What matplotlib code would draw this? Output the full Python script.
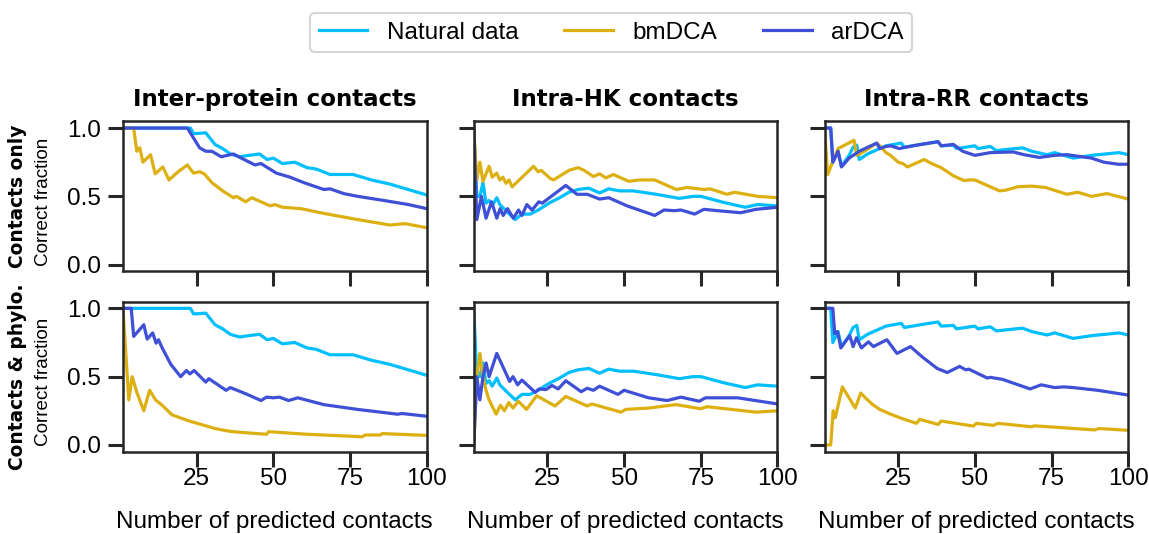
import matplotlib
matplotlib.use("Agg")
import matplotlib.pyplot as plt

plt.rcParams['font.family'] = ['Liberation Sans', 'DejaVu Sans']

# Colours
C_NAT = "#00BFFF"
C_BM = "#DDB012"
C_AR = "#3F4FD6"

TITLES = ["Inter-protein contacts", "Intra-HK contacts", "Intra-RR contacts"]
ROW_LABELS = ["Contacts only", "Contacts & phylo."]
LABELS = ["Natural data", "bmDCA", "arDCA"]

# ---- Natural data (same in both rows) ----
nat_inter_x = [1, 23, 24, 25, 28, 31, 33.5, 36, 39, 42, 45.5, 48, 50, 53, 57, 61, 64, 68.5, 72, 76, 82, 88, 94, 100]
nat_inter_y = [1.0, 1.0, 0.96, 0.96, 0.965, 0.88, 0.85, 0.81, 0.79, 0.80, 0.81, 0.77, 0.78, 0.74, 0.75, 0.71, 0.70, 0.66, 0.66, 0.66, 0.62, 0.59, 0.55, 0.51]

nat_hk_x = [1, 2, 3, 4, 5, 6, 7, 8.5, 9.5, 11.7, 14.5, 16.7, 19.4, 22, 25.5, 29, 32, 35, 38.5, 42, 45, 48.5, 53, 60.5, 68, 72.5, 75, 82.5, 89.5, 93.5, 100]
nat_hk_y = [1.0, 0.5, 0.5, 0.60, 0.45, 0.47, 0.43, 0.49, 0.44, 0.39, 0.33, 0.37, 0.37, 0.40, 0.45, 0.49, 0.53, 0.55, 0.56, 0.525, 0.555, 0.54, 0.54, 0.515, 0.485, 0.50, 0.50, 0.455, 0.42, 0.44, 0.43]

nat_rr_x = [1, 3, 3.7, 5.4, 6.5, 9, 10.3, 11.5, 12.3, 15, 17, 21, 26, 27, 31, 35, 38, 39, 43, 44, 50, 51, 55, 57, 65.5, 68.5, 73.5, 76, 82, 88, 97, 100]
nat_rr_y = [1.0, 1.0, 0.75, 0.83, 0.72, 0.80, 0.86, 0.875, 0.77, 0.81, 0.83, 0.87, 0.89, 0.86, 0.875, 0.89, 0.90, 0.87, 0.875, 0.85, 0.87, 0.85, 0.865, 0.835, 0.855, 0.83, 0.805, 0.82, 0.78, 0.80, 0.82, 0.805]

# ---- Contacts only ----
bm1_inter_x = [1, 4.5, 5.5, 6.5, 7.5, 10, 11.5, 14, 16, 19, 22, 24, 26, 27.5, 30, 33.5, 37, 38, 41, 43, 49, 50.5, 53, 59, 66.5, 77.5, 88, 93, 100]
bm1_inter_y = [1.0, 1.0, 0.83, 0.855, 0.75, 0.805, 0.665, 0.715, 0.62, 0.68, 0.73, 0.67, 0.68, 0.665, 0.60, 0.54, 0.49, 0.50, 0.46, 0.49, 0.43, 0.44, 0.42, 0.41, 0.375, 0.33, 0.29, 0.30, 0.27]
ar1_inter_x = [1, 22, 26, 28, 30, 33, 37, 40, 44, 46, 51, 55.5, 60, 66.5, 68.5, 73, 77.5, 86, 94, 100]
ar1_inter_y = [1.0, 1.0, 0.855, 0.83, 0.83, 0.79, 0.81, 0.775, 0.73, 0.74, 0.67, 0.64, 0.60, 0.55, 0.555, 0.52, 0.50, 0.47, 0.44, 0.41]

bm1_hk_x = [1, 2, 3, 4, 6, 7, 8.5, 9.5, 10.5, 11.5, 12.5, 13.5, 17, 20.5, 22, 23, 26, 27, 32, 35, 37, 40, 42, 44, 46.5, 51.5, 55, 60, 67, 70.5, 76, 78, 83.5, 86, 93.5, 100]
bm1_hk_y = [1.0, 0.62, 0.75, 0.61, 0.72, 0.64, 0.67, 0.62, 0.64, 0.595, 0.62, 0.57, 0.645, 0.72, 0.68, 0.69, 0.63, 0.62, 0.69, 0.71, 0.69, 0.645, 0.665, 0.635, 0.66, 0.61, 0.62, 0.62, 0.55, 0.565, 0.55, 0.555, 0.515, 0.53, 0.50, 0.49]
ar1_hk_x = [1, 2, 3.5, 5, 6.8, 8.5, 9.6, 10.6, 12, 13.9, 15.6, 16.7, 18.3, 20, 22.2, 23.3, 31, 34.6, 38, 42, 45, 51, 60, 63, 66.5, 68.5, 73, 76, 80.5, 88, 93, 100]
ar1_hk_y = [1.0, 0.33, 0.50, 0.34, 0.46, 0.34, 0.41, 0.36, 0.41, 0.34, 0.40, 0.36, 0.44, 0.40, 0.46, 0.45, 0.58, 0.515, 0.515, 0.48, 0.49, 0.43, 0.36, 0.40, 0.395, 0.40, 0.37, 0.405, 0.395, 0.38, 0.405, 0.42]

bm1_rr_x = [1, 2, 5.4, 10.6, 11.5, 14, 18, 19, 21, 22.5, 25, 26.5, 28, 33.5, 35, 37.4, 39, 43, 46.5, 48, 50, 58, 60, 64, 68.5, 73, 80, 83.5, 88, 93, 100]
bm1_rr_y = [1.0, 0.66, 0.85, 0.91, 0.80, 0.83, 0.89, 0.87, 0.82, 0.80, 0.75, 0.74, 0.715, 0.77, 0.75, 0.725, 0.71, 0.65, 0.615, 0.62, 0.62, 0.54, 0.545, 0.57, 0.575, 0.565, 0.515, 0.53, 0.50, 0.52, 0.48]
ar1_rr_x = [1, 3, 3.7, 5.4, 6.5, 9, 12.3, 15.6, 18, 19, 21, 22.5, 25.3, 31, 38, 39, 43, 46, 50, 55, 62.5, 66, 71, 76, 80, 88, 92, 96.7, 100]
ar1_rr_y = [1.0, 1.0, 0.75, 0.83, 0.715, 0.78, 0.83, 0.865, 0.89, 0.85, 0.865, 0.87, 0.85, 0.875, 0.90, 0.87, 0.88, 0.83, 0.80, 0.82, 0.825, 0.805, 0.785, 0.80, 0.805, 0.78, 0.75, 0.735, 0.735]

# ---- Contacts & phylogeny ----
bm2_inter_x = [1, 2.9, 4, 5.6, 7.8, 9.7, 11.6, 13.8, 17, 22.6, 28, 31, 35.7, 39, 47.8, 48.5, 61, 79, 80, 85, 85.5, 100]
bm2_inter_y = [1.0, 0.33, 0.50, 0.38, 0.25, 0.40, 0.33, 0.29, 0.22, 0.175, 0.14, 0.12, 0.10, 0.093, 0.078, 0.097, 0.078, 0.06, 0.073, 0.073, 0.083, 0.07]
ar2_inter_x = [1, 3.7, 4.5, 7.8, 8.9, 10.7, 11.8, 12.6, 13.8, 16.6, 19.8, 21.7, 22.8, 24.2, 28, 29, 34.6, 36, 41, 46, 47.8, 50, 52, 55, 58, 66.5, 77.5, 90.5, 92, 100]
ar2_inter_y = [1.0, 1.0, 0.795, 0.88, 0.775, 0.82, 0.745, 0.77, 0.71, 0.59, 0.50, 0.545, 0.52, 0.545, 0.46, 0.485, 0.40, 0.42, 0.375, 0.325, 0.35, 0.345, 0.35, 0.325, 0.345, 0.295, 0.26, 0.225, 0.23, 0.21]

bm2_hk_x = [1, 2, 3, 4, 5, 6, 8.3, 9.7, 11, 12.4, 13.8, 15.5, 18.2, 21.5, 27.5, 31, 38, 39.5, 49, 50.5, 58, 65, 67, 75, 77, 93, 100]
bm2_hk_y = [0.0, 0.5, 0.67, 0.5, 0.4, 0.33, 0.225, 0.29, 0.25, 0.31, 0.27, 0.32, 0.26, 0.36, 0.285, 0.355, 0.285, 0.30, 0.24, 0.26, 0.27, 0.29, 0.295, 0.265, 0.28, 0.24, 0.25]
ar2_hk_x = [1, 2, 3, 4, 5, 6, 8.5, 12.7, 13.8, 15.3, 16.7, 21, 22.3, 24.5, 26.5, 28.5, 31, 36, 38, 40, 42, 48, 50, 58, 64, 68.5, 74.5, 76.5, 87, 100]
ar2_hk_y = [0.0, 0.5, 0.33, 0.5, 0.6, 0.5, 0.67, 0.465, 0.50, 0.44, 0.475, 0.385, 0.41, 0.405, 0.435, 0.41, 0.47, 0.39, 0.415, 0.40, 0.43, 0.37, 0.40, 0.345, 0.325, 0.35, 0.32, 0.345, 0.345, 0.30]

bm2_rr_x = [1, 3, 3.8, 4.5, 6.8, 11, 12.8, 14.5, 16.7, 19, 22, 26, 31, 32, 38, 39, 49.5, 50.5, 56, 57.5, 68.5, 69.5, 89, 90.5, 100]
bm2_rr_y = [0.0, 0.0, 0.25, 0.20, 0.425, 0.27, 0.38, 0.34, 0.295, 0.26, 0.23, 0.195, 0.158, 0.187, 0.15, 0.175, 0.138, 0.158, 0.143, 0.158, 0.133, 0.14, 0.11, 0.12, 0.107]
ar2_rr_x = [1, 3.7, 4.3, 5.2, 6.3, 9.2, 10.3, 11.4, 13, 15.3, 16.9, 21.3, 24.6, 29, 32.8, 37.7, 41, 45, 47, 48, 54, 55, 59, 68, 71.6, 76, 79, 82, 90, 100]
ar2_rr_y = [1.0, 1.0, 0.815, 0.83, 0.71, 0.80, 0.72, 0.785, 0.71, 0.755, 0.72, 0.77, 0.67, 0.72, 0.645, 0.56, 0.53, 0.575, 0.55, 0.555, 0.49, 0.495, 0.48, 0.41, 0.44, 0.42, 0.425, 0.42, 0.40, 0.365]

nat = [(nat_inter_x, nat_inter_y), (nat_hk_x, nat_hk_y), (nat_rr_x, nat_rr_y)]
bm = [[(bm1_inter_x, bm1_inter_y), (bm1_hk_x, bm1_hk_y), (bm1_rr_x, bm1_rr_y)],
      [(bm2_inter_x, bm2_inter_y), (bm2_hk_x, bm2_hk_y), (bm2_rr_x, bm2_rr_y)]]
ar = [[(ar1_inter_x, ar1_inter_y), (ar1_hk_x, ar1_hk_y), (ar1_rr_x, ar1_rr_y)],
      [(ar2_inter_x, ar2_inter_y), (ar2_hk_x, ar2_hk_y), (ar2_rr_x, ar2_rr_y)]]

FS = 17.5
LW = 2.3

fig, axes = plt.subplots(2, 3, figsize=(11.49, 5.34), dpi=100)
fig.subplots_adjust(left=0.107, right=0.982, bottom=0.154, top=0.773, wspace=0.155, hspace=0.2)

for r in range(2):
    for c in range(3):
        ax = axes[r, c]
        ax.plot(*nat[c], color=C_NAT, lw=LW, label=LABELS[0])
        ax.plot(*bm[r][c], color=C_BM, lw=LW, label=LABELS[1])
        ax.plot(*ar[r][c], color=C_AR, lw=LW, label=LABELS[2])
        ax.set_xlim(1, 100)
        ax.set_ylim(-0.05, 1.05)
        ax.set_xticks([25, 50, 75, 100])
        ax.set_yticks([0, 0.5, 1.0])
        ax.tick_params(direction="out", length=11, width=2.2, labelsize=FS, pad=5, color="#262626")
        ax.tick_params(axis="x", pad=1)
        for s in ax.spines.values():
            s.set_linewidth(1.8)
            s.set_color("#262626")
        if c > 0:
            ax.set_yticklabels([])
        if r == 0:
            ax.set_xticklabels([])
            ax.set_title(TITLES[c], fontsize=16.5, fontweight="bold", family="DejaVu Sans", pad=11)
        else:
            ax.set_xlabel("Number of predicted contacts", fontsize=FS, labelpad=15)

for r in range(2):
    pos = axes[r, 0].get_position()
    yc = (pos.y0 + pos.y1) / 2
    fig.text(18 / 1149, yc, ROW_LABELS[r], rotation=90, ha="center", va="center",
             fontsize=13.4, fontweight="bold", family="DejaVu Sans")
    fig.text(43 / 1149, yc - 0.01, "Correct fraction", rotation=90, ha="center", va="center", fontsize=13.6)

handles, labels = axes[0, 0].get_legend_handles_labels()
leg = fig.legend(handles, labels, loc="upper center", bbox_to_anchor=(0.532, 0.998), ncol=3,
                 fontsize=FS, frameon=True, handlelength=2.0, handletextpad=0.8, columnspacing=1.9,
                 borderpad=0.35, fancybox=True)
leg.get_frame().set_edgecolor("#cccccc")
leg.get_frame().set_linewidth(1.5)

fig.savefig("out.png", dpi=100)
